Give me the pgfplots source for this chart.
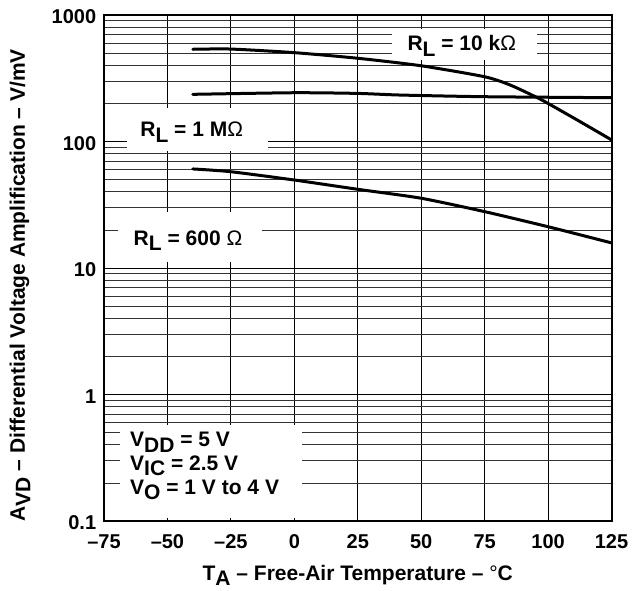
\documentclass[border=0pt]{standalone}
\usepackage{fontspec}
\setmainfont{Liberation Sans}
\usepackage{pgfplots}
\pgfplotsset{compat=1.18}
\newcommand{\sub}[1]{\raisebox{-0.26em}{#1}}
\newcommand{\lab}{\bfseries\fontsize{21}{25}\selectfont}
\begin{document}
\begin{tikzpicture}
\begin{axis}[
  scale only axis, width=507.5pt, height=506pt,
  ymode=log, xmin=-75, xmax=125, ymin=0.1, ymax=1000,
  xtick={-75,-50,-25,0,25,50,75,100,125},
  xticklabels={–75,–50,–25,0,25,50,75,100,125},
  ytick={0.1,1,10,100,1000},
  yticklabels={0.1,1,10,100,1000},
  minor ytick={0.2,0.3,0.4,0.5,0.6,0.7,0.8,0.9,2,3,4,5,6,7,8,9,20,30,40,50,60,70,80,90,200,300,400,500,600,700,800,900},
  grid=both,
  major grid style={black, line width=0.8pt},
  minor grid style={black!80, line width=0.8pt},
  major tick length=0pt, minor tick length=0pt,
  axis line style={line width=2pt},
  tick label style={font=\bfseries\fontsize{20}{24}\selectfont},
  xticklabel style={anchor=base, yshift=-27.3pt},
  yticklabel style={xshift=-4.3pt, yshift=-1.7pt},
  label style={font=\lab},
  xlabel={T\sub{A} – Free-Air Temperature – {\mdseries°}C},
  ylabel={A\sub{VD} – Differential Voltage Amplification – V/mV},
  xlabel style={at={(axis description cs:0.5,-0.1166)}, anchor=base},
  ylabel style={at={(axis description cs:-0.1557,0.466)}, anchor=base},
]
\coordinate (O) at (rel axis cs:0,0);
% white label boxes
\fill[white] (axis cs:38.5,775) rectangle (axis cs:95.64,441);
\fill[white] (axis cs:-65.94,184) rectangle (axis cs:-10.37,84.1);
\fill[white] (axis cs:-69.48,27.7) rectangle (axis cs:-12.73,11.15);
\fill[white] (axis cs:-68.7,0.574) rectangle (axis cs:3.03,0.1057);
% curves
\addplot[black, line width=3pt, line cap=round, smooth, tension=0.4] coordinates {
  (-40,536) (-25,538) (0,504) (25,455) (50,397) (75,325) (85,280) (95,226) (100,200) (112.5,144) (125,103)};
\addplot[black, line width=3pt, line cap=round, smooth, tension=0.4] coordinates {
  (-40,236) (0,243) (25,240) (41.65,233) (75,226) (125,222)};
\addplot[black, line width=3pt, line cap=round, smooth, tension=0.4] coordinates {
  (-40,60.7) (-25,57.7) (0,49.6) (25,41.9) (50,35.6) (75,27.9) (100,21.2) (125,15.8)};
% labels
\node[font=\lab, anchor=base, inner sep=0pt] at (axis cs:66,522) {R\sub{L} = 10 k{\mdseries Ω}};
\node[font=\lab, anchor=base, inner sep=0pt] at (axis cs:-40.45,109.1) {R\sub{L} = 1 M{\mdseries Ω}};
\node[font=\lab, anchor=base, inner sep=0pt] at (axis cs:-41.9,15.2) {R\sub{L} = 600 {\mdseries Ω}};
\node[font=\lab, anchor=base west, inner sep=0pt] at (axis cs:-64.75,0.3868) {V\sub{DD} = 5 V};
\node[font=\lab, anchor=base west, inner sep=0pt] at (axis cs:-64.75,0.253) {V\sub{IC} = 2.5 V};
\node[font=\lab, anchor=base west, inner sep=0pt] at (axis cs:-64.75,0.1626) {V\sub{O} = 1 V to 4 V};
\end{axis}
\pgfresetboundingbox
\path[use as bounding box] ([shift={(-104pt,-69pt)}]O) rectangle ++(639pt,590pt);
\end{tikzpicture}
\end{document}
